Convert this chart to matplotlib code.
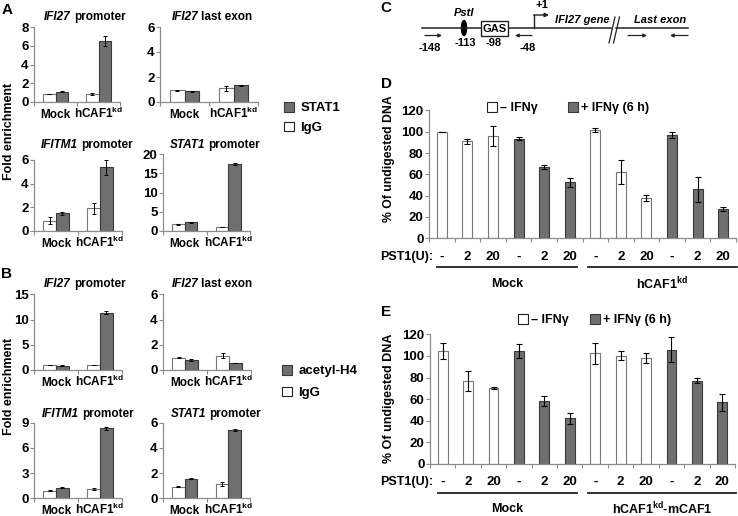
import matplotlib
matplotlib.use('Agg')
import matplotlib.pyplot as plt
import numpy as np
from matplotlib.patches import Rectangle, Ellipse, Patch
from matplotlib.offsetbox import TextArea, HPacker, AnnotationBbox

plt.rcParams['font.family'] = ['Liberation Sans', 'DejaVu Sans']
plt.rcParams['font.weight'] = 'bold'
plt.rcParams['mathtext.fontset'] = 'custom'
plt.rcParams['mathtext.rm'] = 'Liberation Sans:bold'
plt.rcParams['mathtext.bf'] = 'Liberation Sans:bold'
plt.rcParams['mathtext.it'] = 'Liberation Sans:italic:bold'

# ---------------- data ----------------
chip_groups = ['Mock', r'hCAF1$^{\mathrm{kd}}$']
chip_genes = ['IFI27', 'IFI27', 'IFITM1', 'STAT1']
chip_regions = ['promoter', 'last exon', 'promoter', 'promoter']

# Panel A : STAT1 ChIP vs IgG
A_stat1 = [[1.1, 6.5], [0.85, 1.35], [1.47, 5.37], [2.2, 17.45]]
A_stat1_err = [[0.08, 0.5], [0.03, 0.05], [0.1, 0.65], [0.15, 0.2]]
A_igg = [[0.85, 0.85], [0.93, 1.12], [0.85, 1.9], [1.65, 0.97]]
A_igg_err = [[0.04, 0.06], [0.05, 0.2], [0.3, 0.45], [0.05, 0.1]]
A_ymax = [8, 6, 6, 20]
A_ystep = [2, 2, 2, 5]

# Panel B : acetyl-H4 ChIP vs IgG
B_ac = [[0.86, 11.35], [0.79, 0.55], [1.27, 8.33], [1.56, 5.42]]
B_ac_err = [[0.08, 0.3], [0.05, 0.03], [0.1, 0.15], [0.05, 0.08]]
B_igg = [[0.93, 1.0], [0.97, 1.13], [0.9, 1.1], [0.92, 1.11]]
B_igg_err = [[0.03, 0.05], [0.05, 0.2], [0.05, 0.15], [0.05, 0.15]]
B_ymax = [15, 6, 9, 6]
B_ystep = [5, 2, 3, 2]

# Panels D / E : PstI accessibility
pst_units = ['-', '2', '20', '-', '2', '20', '-', '2', '20', '-', '2', '20']
ifn_treated = [False, False, False, True, True, True,
               False, False, False, True, True, True]
D_vals = [100, 91, 96, 93.5, 67, 52.5, 101.5, 62.5, 38, 97, 46, 27.5]
D_err = [0, 2.3, 9.2, 1.6, 1.6, 3.9, 1.6, 11.2, 2.7, 2.7, 11.5, 1.6]
D_groups = ['Mock', r'hCAF1$^{\mathrm{kd}}$']
E_vals = [104.5, 77, 70, 104.5, 58.6, 42.2, 102.4, 100, 98.4, 105.8, 77, 57]
E_err = [7.6, 9.1, 1.0, 6.2, 4.5, 5.1, 10, 4.2, 4.5, 11.3, 2.5, 8.2]
E_groups = ['Mock', r'hCAF1$^{\mathrm{kd}}$-mCAF1']

# ---------------- figure ----------------
W, H = 738, 516
fig = plt.figure(figsize=(W / 100, H / 100), dpi=100)

GRAY = '#6f6f6f'
EDGE_G = '#3a3a3a'
EDGE_W = '#777777'
SPINE = '#8c8c8c'
DARK = '#222222'


def rect(x0, yt, x1, yb):
    return [x0 / W, 1 - yb / H, (x1 - x0) / W, (yb - yt) / H]


ax0 = fig.add_axes([0, 0, 1, 1], zorder=-1)
ax0.set_xlim(0, W)
ax0.set_ylim(H, 0)
ax0.axis('off')


def style_axes(ax, ncat, ticksize, labelpad):
    for s in ['top', 'right']:
        ax.spines[s].set_visible(False)
    for s in ['left', 'bottom']:
        ax.spines[s].set_color(SPINE)
        ax.spines[s].set_linewidth(0.9)
    ax.set_xlim(-0.5, ncat - 0.5)
    ax.set_xticks(np.arange(-0.5, ncat, 1.0))
    ax.set_xticklabels([])
    ax.tick_params(axis='x', which='major', direction='out', length=3,
                   width=0.8, color=SPINE)
    ax.tick_params(axis='y', direction='out', length=3, width=0.8,
                   color=SPINE, labelsize=ticksize, pad=0.8)
    ax.tick_params(axis='x', which='minor', length=0, pad=labelpad)


ekw_small = dict(ecolor='black', elinewidth=0.7, capsize=1.5, capthick=0.7)


def chip_axes(rectpx, gvals, gerr, wvals, werr, ymax, ystep):
    ax = fig.add_axes(rect(*rectpx))
    x = np.arange(len(chip_groups))
    bw = 0.29
    ax.bar(x - bw / 2, wvals, bw, yerr=werr, color='white', edgecolor=EDGE_W,
           linewidth=0.8, error_kw=ekw_small, zorder=2)
    ax.bar(x + bw / 2, gvals, bw, yerr=gerr, color=GRAY, edgecolor=EDGE_G,
           linewidth=0.8, error_kw=ekw_small, zorder=2)
    style_axes(ax, len(x), 9.5, 11.5)
    ax.set_ylim(0, ymax)
    ax.set_yticks(np.arange(0, ymax + 0.001, ystep))
    ax.set_xticks(x, minor=True)
    ax.set_xticklabels(chip_groups, minor=True, fontsize=8.5)
    for lab in ax.get_xticklabels(minor=True):
        lab.set_verticalalignment('baseline')
    return ax


def title_at(x, y, gene, rest, size=8.5):
    t1 = TextArea(gene, textprops=dict(style='italic', weight='bold', size=size))
    t2 = TextArea(rest, textprops=dict(weight='bold', size=size))
    pk = HPacker(children=[t1, t2], align='baseline', pad=0, sep=2.5)
    ab = AnnotationBbox(pk, (x, y), xycoords='data', frameon=False,
                        box_alignment=(0.5, 0.5), pad=0)
    ax0.add_artist(ab)


# Panel A
A_rects = [(34, 27, 120, 102), (160, 27, 258, 102),
           (34, 160, 122, 230.7), (163, 154.3, 250, 230.7)]
A_title_pos = [(85, 17), (212, 17), (87, 145), (215, 145)]
for i in range(4):
    chip_axes(A_rects[i], A_stat1[i], A_stat1_err[i], A_igg[i], A_igg_err[i],
              A_ymax[i], A_ystep[i])
    title_at(*A_title_pos[i], chip_genes[i], chip_regions[i])

# Panel B
B_rects = [(34, 294.3, 122, 370), (163, 294.3, 251, 370),
           (34, 422.7, 122, 498.3), (163, 422.7, 250, 498.3)]
B_title_pos = [(85, 284), (212, 284), (88, 414), (216, 414)]
for i in range(4):
    chip_axes(B_rects[i], B_ac[i], B_ac_err[i], B_igg[i], B_igg_err[i],
              B_ymax[i], B_ystep[i])
    title_at(*B_title_pos[i], chip_genes[i], chip_regions[i])

# y labels A/B
ax0.text(9, 131, 'Fold enrichment', rotation=90, ha='center', va='center',
         fontsize=9, weight='bold')
ax0.text(9, 386, 'Fold enrichment', rotation=90, ha='center', va='center',
         fontsize=9, weight='bold')

# legends A / B
gray_patch = Patch(facecolor=GRAY, edgecolor=EDGE_G, linewidth=0.8)
white_patch = Patch(facecolor='white', edgecolor=DARK, linewidth=0.8)
fig.legend([gray_patch, white_patch], ['STAT1', 'IgG'], loc='center left',
           bbox_to_anchor=(284 / W, 1 - 118 / H), frameon=False, fontsize=9.5,
           handlelength=0.75, handleheight=0.75, handletextpad=0.5,
           labelspacing=0.55, borderpad=0, borderaxespad=0)
fig.legend([gray_patch, white_patch], ['acetyl-H4', 'IgG'], loc='center left',
           bbox_to_anchor=(282 / W, 1 - 382 / H), frameon=False, fontsize=9.5,
           handlelength=0.75, handleheight=0.75, handletextpad=0.5,
           labelspacing=0.7, borderpad=0, borderaxespad=0)

# panel letters
for lab, (x, y) in zip('ABCDE', [(7, 10), (6, 274), (386, 8), (386, 84), (386, 312)]):
    ax0.text(x, y, lab, ha='center', va='center', fontsize=11, weight='bold')

# ---------------- Panel C (schematic) ----------------
ly = 28
ax0.plot([422, 611], [ly, ly], color=DARK, lw=1.1)
ax0.plot([616, 688], [ly, ly], color=DARK, lw=1.1)
ax0.plot([609, 615], [43, 17], color=DARK, lw=0.9)
ax0.plot([613.5, 619.5], [43, 17], color=DARK, lw=0.9)
ax0.add_patch(Ellipse((464, ly), 5, 15, color='black'))
ax0.add_patch(Rectangle((481, 21), 27, 15, facecolor='white', edgecolor=DARK,
                        lw=1.0, zorder=3))
ax0.text(494.5, 28.8, 'GAS', ha='center', va='center', fontsize=8, weight='bold',
         zorder=4)
ax0.plot([534, 534], [ly, 15], color=DARK, lw=1.0)
ax0.annotate('', xy=(549, 15), xytext=(533.5, 15),
             arrowprops=dict(arrowstyle='-|>', color=DARK, lw=1.0,
                             mutation_scale=6, shrinkA=0, shrinkB=0))
for (xs, xe) in [(425, 442), (532, 515), (628, 647), (688, 670)]:
    ax0.annotate('', xy=(xe, 35.5), xytext=(xs, 35.5),
                 arrowprops=dict(arrowstyle='-|>', color=DARK, lw=0.9,
                                 mutation_scale=5, shrinkA=0, shrinkB=0))
ax0.text(542, 5, '+1', ha='center', va='center', fontsize=8, weight='bold')
ax0.text(464, 13, 'PstI', ha='center', va='center', fontsize=8, weight='bold',
         style='italic')
ax0.text(582, 20, 'IFI27 gene', ha='center', va='center', fontsize=8,
         weight='bold', style='italic')
ax0.text(660, 20, 'Last exon', ha='center', va='center', fontsize=8,
         weight='bold', style='italic')
for txt, x, y in [('-148', 430, 48), ('-113', 465, 43), ('-98', 494, 43),
                  ('-48', 528, 48)]:
    ax0.text(x, y, txt, ha='center', va='center', fontsize=8, weight='bold')

# ---------------- Panels D / E ----------------
ekw_big = dict(ecolor='black', elinewidth=0.8, capsize=2.2, capthick=0.8)


def digest_axes(rectpx, vals, errs, groups, ybase, xlab_pad, leg_xy, colsp):
    ax = fig.add_axes(rect(*rectpx))
    x = np.arange(len(vals))
    cols = [GRAY if t else 'white' for t in ifn_treated]
    edges = [EDGE_G if t else EDGE_W for t in ifn_treated]
    ax.bar(x, vals, 0.39, yerr=errs, color=cols, edgecolor=edges,
           linewidth=0.8, error_kw=ekw_big, zorder=2)
    style_axes(ax, len(x), 9.5, xlab_pad)
    ax.set_ylim(0, 120)
    ax.set_yticks(np.arange(0, 121, 20))
    ax.set_xticks(x, minor=True)
    ax.set_xticklabels(pst_units, minor=True, fontsize=9.5)
    for lab in ax.get_xticklabels(minor=True):
        lab.set_verticalalignment('baseline')
    # group underlines and labels
    tr = ax.get_xaxis_transform()
    ybot = rectpx[3]
    axh = rectpx[3] - rectpx[1]
    line_y = -(ybase[0] - ybot) / axh
    lab_y = -(ybase[1] - ybot) / axh
    for (x0, x1), g in zip([(-0.2, 5.3), (5.7, 11.55)], groups):
        ax.plot([x0, x1], [line_y, line_y], color=DARK, lw=1.3,
                transform=tr, clip_on=False)
        ax.text((x0 + x1) / 2, lab_y, g, transform=tr, ha='center',
                va='center', fontsize=9, weight='bold')
    ax.text(-0.5 - (rectpx[0] - 380) / ((rectpx[2] - rectpx[0]) / 12),
            -(ybase[2] - ybot) / axh, 'PST1(U):', transform=tr, ha='left',
            va='baseline', fontsize=9, weight='bold')
    ax.legend([Patch(facecolor='white', edgecolor=DARK, linewidth=0.8),
               Patch(facecolor=GRAY, edgecolor=EDGE_G, linewidth=0.8)],
              ['\u2013 IFN\u03b3', '+ IFN\u03b3 (6 h)'], ncol=2,
              loc='center left', bbox_to_anchor=(leg_xy[0] / W, 1 - leg_xy[1] / H),
              bbox_transform=fig.transFigure, frameon=False, fontsize=9,
              handlelength=0.8, handleheight=0.8, handletextpad=0.25,
              columnspacing=colsp, borderpad=0, borderaxespad=0)
    return ax


digest_axes((429, 110.4, 736, 238.3), D_vals, D_err, D_groups,
            (267, 284, 260), 15.8, (487, 108), 2.4)
digest_axes((430, 334.3, 735, 464), E_vals, E_err, E_groups,
            (492.7, 509, 485), 15, (518, 320), 1.7)

ax0.text(389, 159, '% Of undigested DNA', rotation=90, ha='center',
         va='center', fontsize=8.8, weight='bold')
ax0.text(389, 398, '% Of undigested DNA', rotation=90, ha='center',
         va='center', fontsize=9, weight='bold')

fig.savefig('out.png', dpi=100)
